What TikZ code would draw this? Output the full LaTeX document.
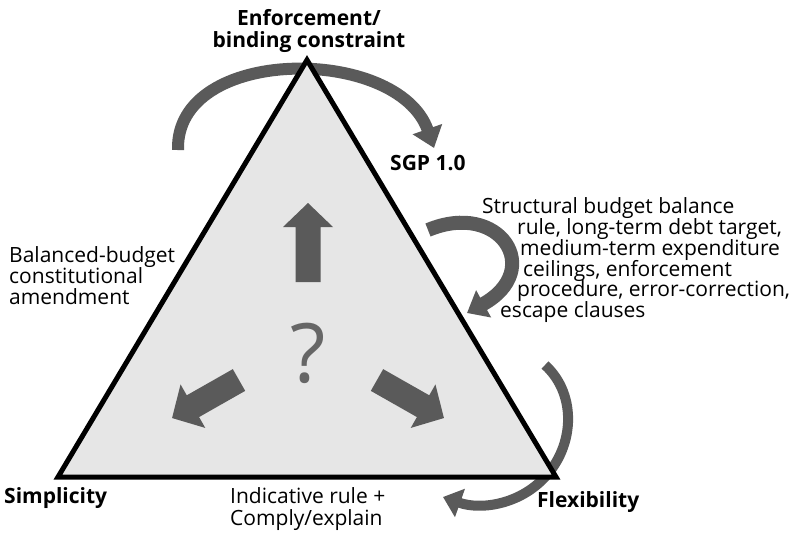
\documentclass[tikz,border=0pt]{standalone}
\usepackage{fontspec}
\setmainfont{Open Sans}
\usetikzlibrary{arrows.meta}
\definecolor{arrowgray}{HTML}{5A5A5A}
\definecolor{trifill}{HTML}{E6E6E6}
\definecolor{qgray}{HTML}{666666}
% block arrow: base centre (#1,#2), direction #3, total length #4
\newcommand\blockarrow[4]{%
  \fill[arrowgray, shift={(#1,#2)}, rotate=#3]
    (0,-12.5) -- (#4-24,-12.5) -- (#4-24,-25) -- (#4,0) -- (#4-24,25) -- (#4-24,12.5) -- (0,12.5) -- cycle;}
\begin{document}
\begin{tikzpicture}[x=1pt,y=-1pt,
  txt/.style={font=\fontsize{21}{22}\selectfont, inner sep=0pt, anchor=base west},
  ttl/.style={font=\fontsize{21}{22}\selectfont\bfseries, inner sep=0pt},
  sweep/.style={draw=arrowgray, line width=#1}]
\useasboundingbox (0,0) rectangle (796,536);

% curved arrows (drawn first so the triangle sits on top of them)
\coordinate (topA) at (178,150);
\coordinate (topB) at (434,148);
\draw[sweep=12, -{Triangle[length=20pt,width=30pt]}]
  (topA) .. controls (175,45) and (398,45) .. (topB);

\coordinate (midA) at (428,230);
\coordinate (midB) at (467,313);
\draw[sweep=14, -{Triangle[length=19pt,width=30pt]}]
  (midA) .. controls (500,200) and (545,270) .. (midB);

\coordinate (lowA) at (545,365);
\coordinate (lowM) at (540,482);
\coordinate (lowB) at (443,497);
\draw[sweep=10, -{Triangle[length=18pt,width=29pt]}]
  (lowA) .. controls (578,395) and (575,450) .. (lowM)
  .. controls (515,505) and (480,510) .. (lowB);

% the triangle
\draw[line width=5pt, fill=trifill, line join=miter]
  (307,60) coordinate (apex) -- (556,477) coordinate (right) -- (58,477) coordinate (left) -- cycle;

% block arrows inside
\blockarrow{308}{282}{90}{79}
\blockarrow{239}{380}{209.6}{77}
\blockarrow{377}{380}{-29.6}{77}
\node[font=\fontsize{82}{82}\selectfont, text=qgray, inner sep=0pt, anchor=base] (q) at (308,382) {?};

% corner labels
\node[ttl, anchor=base] (enf1) at (309,25) {Enforcement/};
\node[ttl, anchor=base] (enf2) at (309,47.5) {binding constraint};
\node[ttl, anchor=base west] (simp) at (4,503) {Simplicity};
\node[ttl, anchor=base west] (flex) at (537,507) {Flexibility};
\node[ttl, anchor=base west] (sgp) at (390,170) {SGP 1.0};

% left text
\node[txt] (bb1) at (9,262) {Balanced-budget};
\node[txt] (bb2) at (9,283) {constitutional};
\node[txt] (bb3) at (9,304) {amendment};

% right text
\node[txt] (r1) at (482,213) {Structural budget balance};
\node[txt] (r2) at (517,234) {rule, long-term debt target,};
\node[txt] (r3) at (520,255) {medium-term expenditure};
\node[txt] (r4) at (523,276) {ceilings, enforcement};
\node[txt] (r5) at (517,296) {procedure, error-correction,};
\node[txt] (r6) at (500,317) {escape clauses};

% bottom text
\node[txt] (ind1) at (230,503) {Indicative rule +};
\node[txt] (ind2) at (230,525) {Comply/explain};
\end{tikzpicture}
\end{document}
